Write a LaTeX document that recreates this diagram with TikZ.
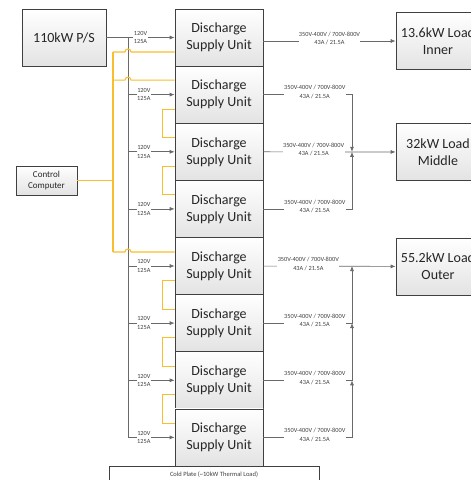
\documentclass[tikz,border=0pt]{standalone}
\usepackage{fontspec}
\setmainfont{Carlito}
\usepackage{tikz}
\usetikzlibrary{arrows.meta}
\usetikzlibrary{calc}
\definecolor{ctrlyellow}{RGB}{248,190,45}
\definecolor{wiregray}{RGB}{105,105,105}
\tikzstyle{box} = [draw=black!75, line width=0.7pt, top color=white, bottom color=black!11, inner sep=0pt, align=center, text=black!85]
\tikzstyle{unit} = [box, minimum width=88pt, minimum height=57pt, font=\fontsize{14}{17}\selectfont]
\tikzstyle{load} = [box, minimum width=84pt, minimum height=57pt, font=\fontsize{14}{17}\selectfont]
\tikzstyle{wire} = [wiregray, line width=0.7pt, -{Latex[length=5pt,width=4pt]}]
\tikzstyle{ctrl} = [ctrlyellow, line width=1.1pt]
\tikzstyle{vin} = [fill=white, inner sep=0.4pt, align=center, text=black!75, font=\fontsize{6.3}{8.5}\selectfont]
\tikzstyle{vout} = [vin, yshift=2.5pt]

\begin{document}
\begin{tikzpicture}[x=1pt,y=-1pt]
\useasboundingbox (0,0) rectangle (471,480);
\clip (0,0) rectangle (471,480);
\coordinate (PS) at (64,37.5);
\coordinate (CC) at (46.5,180.5);
\coordinate (U1) at (219,37.5);
\coordinate (U2) at (219,94.6);
\coordinate (U3) at (219,151.8);
\coordinate (U4) at (219,208.9);
\coordinate (U5) at (219,266.0);
\coordinate (U6) at (219,323.1);
\coordinate (U7) at (219,380.3);
\coordinate (U8) at (219,437.4);
\coordinate (INNER) at (438,41);
\coordinate (MIDDLE) at (438,152);
\coordinate (OUTER) at (438,266.5);
\coordinate (ibus) at (128,0);
\coordinate (obus) at (352,0);
\coordinate (cbus) at (113,0);

\node [box, minimum width=84pt, minimum height=57pt, font=\fontsize{14}{17}\selectfont] (ps) at (PS) {110kW P/S};
\node [box, minimum width=61pt, minimum height=29pt, font=\fontsize{9}{11}\selectfont] (cc) at (CC) {Control\\Computer};
\node [unit] (dsu1) at (U1) {Discharge\\Supply Unit};
\node [unit] (dsu2) at (U2) {Discharge\\Supply Unit};
\node [unit] (dsu3) at (U3) {Discharge\\Supply Unit};
\node [unit] (dsu4) at (U4) {Discharge\\Supply Unit};
\node [unit] (dsu5) at (U5) {Discharge\\Supply Unit};
\node [unit] (dsu6) at (U6) {Discharge\\Supply Unit};
\node [unit] (dsu7) at (U7) {Discharge\\Supply Unit};
\node [unit] (dsu8) at (U8) {Discharge\\Supply Unit};
\node [load] (inner) at (INNER) {13.6kW Load\\Inner};
\node [load] (middle) at (MIDDLE) {32kW Load\\Middle};
\node [load] (outer) at (OUTER) {55.2kW Load\\Outer};
\node [draw=black!75, line width=0.7pt, fill=white, minimum width=210pt, minimum height=16pt, anchor=north, inner sep=0pt, text=black!75, font=\fontsize{6.5}{8}\selectfont] (plate) at (214,466) {Cold Plate (\textasciitilde10kW Thermal Load)};

\draw [wire] (ps) -- node[vin]{120V\\125A} (dsu1);
\draw [wire,-] (dsu1 -| ibus) -- (dsu8 -| ibus);
\draw [wire] (dsu2 -| ibus) -- node[vin,pos=0.34]{120V\\125A} (dsu2.west);
\draw [wire] (dsu3 -| ibus) -- node[vin,pos=0.34]{120V\\125A} (dsu3.west);
\draw [wire] (dsu4 -| ibus) -- node[vin,pos=0.34]{120V\\125A} (dsu4.west);
\draw [wire] (dsu5 -| ibus) -- node[vin,pos=0.34]{120V\\125A} (dsu5.west);
\draw [wire] (dsu6 -| ibus) -- node[vin,pos=0.34]{120V\\125A} (dsu6.west);
\draw [wire] (dsu7 -| ibus) -- node[vin,pos=0.34]{120V\\125A} (dsu7.west);
\draw [wire] (dsu8 -| ibus) -- node[vin,pos=0.34]{120V\\125A} (dsu8.west);

\draw [wire] (dsu1.east |- inner) -- node[vout]{350V-400V / 700V-800V\\43A / 21.5A} (inner);
\draw [wire] (dsu2.east) -| node[vout,pos=0.29]{350V-400V / 700V-800V\\43A / 21.5A} (dsu3 -| obus);
\draw [wire] (dsu3) -- node[vout,pos=0.38]{350V-400V / 700V-800V\\43A / 21.5A} (middle);
\draw [wire] (dsu4.east) -| node[vout,pos=0.29]{350V-400V / 700V-800V\\43A / 21.5A} (dsu3 -| obus);
\draw [wire] (dsu5) -- node[vout,pos=0.34]{350V-400V / 700V-800V\\43A / 21.5A} (outer);
\draw [wire] (dsu6.east) -| node[vout,pos=0.29]{350V-400V / 700V-800V\\43A / 21.5A} (dsu5 -| obus);
\draw [wire] (dsu7.east) -| node[vout,pos=0.29]{350V-400V / 700V-800V\\43A / 21.5A} (dsu6 -| obus);
\draw [wire] (dsu8.east) -| node[vout,pos=0.29]{350V-400V / 700V-800V\\43A / 21.5A} (dsu7 -| obus);

\coordinate (c1) at ([yshift=-14.5pt]dsu1.west);
\coordinate (c2) at ([yshift=14.5pt]dsu2.west);
\coordinate (c5) at ([yshift=14pt]dsu5.west);
\draw [ctrl] (cc) -- (cc -| cbus);
\draw [ctrl] (c1 -| cbus) -- (c5 -| cbus);
\draw [ctrl] (c1 -| cbus) -- ($(c1 -| ibus)+(-3,0)$) arc[start angle=180,end angle=0,radius=3pt] -- (c1);
\draw [ctrl] (c2 -| cbus) -- ($(c2 -| ibus)+(-3,0)$) arc[start angle=180,end angle=0,radius=3pt] -- (c2);
\draw [ctrl] (c5 -| cbus) -- ($(c5 -| ibus)+(-3,0)$) arc[start angle=180,end angle=0,radius=3pt] -- (c5);
\draw [ctrl] ([yshift=-14.5pt]dsu2.west) -- ++(-12,0) |- ([yshift=14pt]dsu3.west);
\draw [ctrl] ([yshift=-14.5pt]dsu3.west) -- ++(-12,0) |- ([yshift=14pt]dsu4.west);
\draw [ctrl] ([yshift=-14.5pt]dsu5.west) -- ++(-12,0) |- ([yshift=14pt]dsu6.west);
\draw [ctrl] ([yshift=-14.5pt]dsu6.west) -- ++(-12,0) |- ([yshift=14pt]dsu7.west);
\draw [ctrl] ([yshift=-14.5pt]dsu7.west) -- ++(-12,0) |- ([yshift=14pt]dsu8.west);
\end{tikzpicture}
\end{document}
